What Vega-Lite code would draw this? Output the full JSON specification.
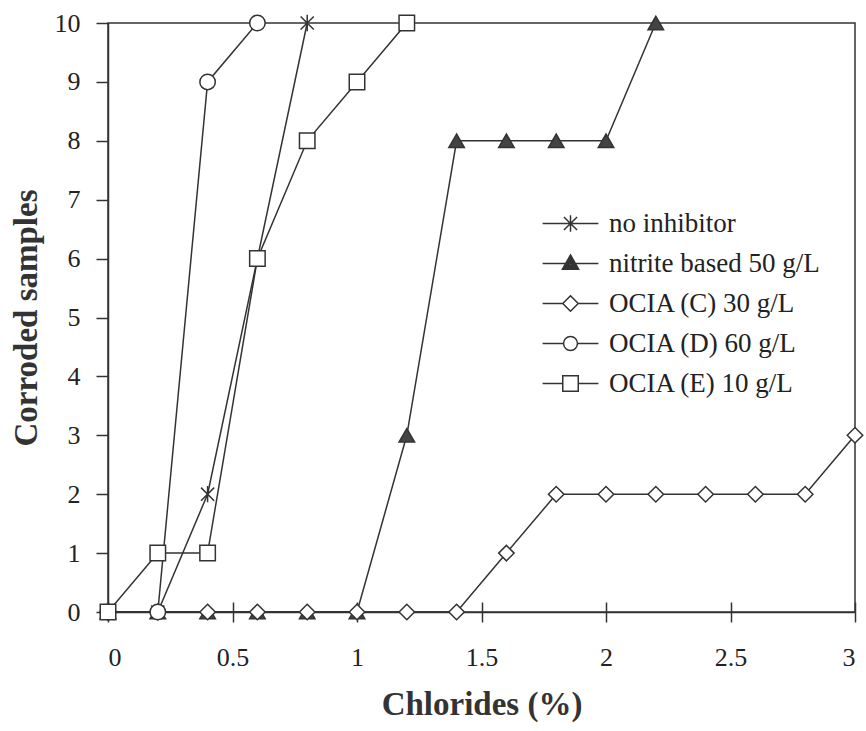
{
  "$schema": "https://vega.github.io/schema/vega-lite/v6.json",
  "width": 747,
  "height": 589,
  "autosize": "none",
  "padding": {"left": 108, "top": 23, "right": 11, "bottom": 119},
  "background": "white",
  "config": {
    "view": {"stroke": "#333", "strokeWidth": 1.5},
    "axis": {
      "grid": false,
      "domainColor": "#333",
      "domainWidth": 1.5,
      "tickColor": "#333",
      "tickWidth": 1.5,
      "labelFont": "Liberation Serif",
      "labelFontSize": 26,
      "labelColor": "#222",
      "titleFont": "Liberation Serif",
      "titleFontWeight": "bold",
      "titleFontSize": 33,
      "titleColor": "#333"
    }
  },
  "data": {
    "values": [
      {"series": "nitrite based 50 g/L", "x": 0, "y": 0},
      {"series": "nitrite based 50 g/L", "x": 0.2, "y": 0},
      {"series": "nitrite based 50 g/L", "x": 0.4, "y": 0},
      {"series": "nitrite based 50 g/L", "x": 0.6, "y": 0},
      {"series": "nitrite based 50 g/L", "x": 0.8, "y": 0},
      {"series": "nitrite based 50 g/L", "x": 1.0, "y": 0},
      {"series": "nitrite based 50 g/L", "x": 1.2, "y": 3},
      {"series": "nitrite based 50 g/L", "x": 1.4, "y": 8},
      {"series": "nitrite based 50 g/L", "x": 1.6, "y": 8},
      {"series": "nitrite based 50 g/L", "x": 1.8, "y": 8},
      {"series": "nitrite based 50 g/L", "x": 2.0, "y": 8},
      {"series": "nitrite based 50 g/L", "x": 2.2, "y": 10},
      {"series": "OCIA (C) 30 g/L", "x": 0, "y": 0},
      {"series": "OCIA (C) 30 g/L", "x": 0.2, "y": 0},
      {"series": "OCIA (C) 30 g/L", "x": 0.4, "y": 0},
      {"series": "OCIA (C) 30 g/L", "x": 0.6, "y": 0},
      {"series": "OCIA (C) 30 g/L", "x": 0.8, "y": 0},
      {"series": "OCIA (C) 30 g/L", "x": 1.0, "y": 0},
      {"series": "OCIA (C) 30 g/L", "x": 1.2, "y": 0},
      {"series": "OCIA (C) 30 g/L", "x": 1.4, "y": 0},
      {"series": "OCIA (C) 30 g/L", "x": 1.6, "y": 1},
      {"series": "OCIA (C) 30 g/L", "x": 1.8, "y": 2},
      {"series": "OCIA (C) 30 g/L", "x": 2.0, "y": 2},
      {"series": "OCIA (C) 30 g/L", "x": 2.2, "y": 2},
      {"series": "OCIA (C) 30 g/L", "x": 2.4, "y": 2},
      {"series": "OCIA (C) 30 g/L", "x": 2.6, "y": 2},
      {"series": "OCIA (C) 30 g/L", "x": 2.8, "y": 2},
      {"series": "OCIA (C) 30 g/L", "x": 3.0, "y": 3},
      {"series": "no inhibitor", "x": 0, "y": 0},
      {"series": "no inhibitor", "x": 0.2, "y": 0},
      {"series": "no inhibitor", "x": 0.4, "y": 2},
      {"series": "no inhibitor", "x": 0.8, "y": 10},
      {"series": "OCIA (D) 60 g/L", "x": 0, "y": 0},
      {"series": "OCIA (D) 60 g/L", "x": 0.2, "y": 0},
      {"series": "OCIA (D) 60 g/L", "x": 0.4, "y": 9},
      {"series": "OCIA (D) 60 g/L", "x": 0.6, "y": 10},
      {"series": "OCIA (E) 10 g/L", "x": 0, "y": 0},
      {"series": "OCIA (E) 10 g/L", "x": 0.2, "y": 1},
      {"series": "OCIA (E) 10 g/L", "x": 0.4, "y": 1},
      {"series": "OCIA (E) 10 g/L", "x": 0.6, "y": 6},
      {"series": "OCIA (E) 10 g/L", "x": 0.8, "y": 8},
      {"series": "OCIA (E) 10 g/L", "x": 1.0, "y": 9},
      {"series": "OCIA (E) 10 g/L", "x": 1.2, "y": 10}
    ]
  },
  "encoding": {
    "y": {
      "field": "y",
      "type": "quantitative",
      "scale": {"domain": [0, 10], "nice": false},
      "axis": {"title": "Corroded samples", "values": [0, 1, 2, 3, 4, 5, 6, 7, 8, 9, 10], "tickSize": 12, "labelPadding": 16, "titlePadding": 11}
    },
    "fill": {
      "field": "series",
      "type": "nominal",
      "scale": {
        "domain": ["no inhibitor", "nitrite based 50 g/L", "OCIA (C) 30 g/L", "OCIA (D) 60 g/L", "OCIA (E) 10 g/L"],
        "range": ["#333", "#444", "white", "white", "white"]
      },
      "legend": null
    }
  },
  "layer": [
    {
      "mark": {"type": "line", "color": "#333", "strokeWidth": 1.5},
      "encoding": {
        "x": {
          "field": "x",
          "type": "quantitative",
          "scale": {"domain": [0, 3], "nice": false, "zero": false},
          "axis": {"orient": "bottom", "title": "Chlorides (%)", "values": [0, 0.5, 1, 1.5, 2, 2.5, 3], "format": "~g", "tickSize": 10, "labelPadding": 22, "titlePadding": 18}
        },
        "fill": null,
        "detail": {"field": "series"}
      }
    },
    {
      "mark": {"type": "point", "filled": true, "size": 240, "stroke": "#333", "strokeWidth": 1.5, "opacity": 1},
      "encoding": {
        "x": {
          "field": "x",
          "type": "quantitative",
          "scale": {"domain": [0, 3], "nice": false, "zero": false},
          "axis": {"orient": "bottom", "title": null, "labels": false, "domain": false, "values": [0, 0.5, 1, 1.5, 2, 2.5, 3], "tickSize": -10}
        },
        "shape": {
          "field": "series",
          "type": "nominal",
          "scale": {
            "domain": ["no inhibitor", "nitrite based 50 g/L", "OCIA (C) 30 g/L", "OCIA (D) 60 g/L", "OCIA (E) 10 g/L"],
            "range": ["M0,-1.05L0,1.05M-0.85,-0.85L0.85,0.85M-0.85,0.85L0.85,-0.85", "triangle-up", "diamond", "circle", "square"]
          },
          "legend": null
        }
      }
    },
    {
      "transform": [{"filter": "false"}],
      "mark": {"type": "point", "filled": true, "size": 240, "stroke": "#333", "strokeWidth": 1.5, "opacity": 1},
      "encoding": {
        "x": {
          "field": "x",
          "type": "quantitative",
          "scale": {"domain": [0, 3], "nice": false, "zero": false},
          "axis": null
        },
        "shape": {
          "field": "series",
          "type": "nominal",
          "scale": {
            "domain": ["no inhibitor", "nitrite based 50 g/L", "OCIA (C) 30 g/L", "OCIA (D) 60 g/L", "OCIA (E) 10 g/L"],
            "range": [
              "M-3.6,0L3.6,0M0,-1.05L0,1.05M-0.85,-0.85L0.85,0.85M-0.85,0.85L0.85,-0.85",
              "M-3.6,0L3.6,0M0,-1.1L1.05,0.75L-1.05,0.75ZM0,-0.854L0.84,0.626L-0.84,0.626ZM0,-0.608L0.63,0.502L-0.63,0.502ZM0,-0.362L0.42,0.378L-0.42,0.378ZM0,-0.116L0.21,0.254L-0.21,0.254Z",
              "M-3.6,0L-1,0M1,0L3.6,0M0,-1L1,0L0,1L-1,0Z",
              "M-3.6,0L-0.9,0M0.9,0L3.6,0M0.9,0A0.9,0.9,0,1,1,-0.9,0A0.9,0.9,0,1,1,0.9,0Z",
              "M-3.6,0L-1,0M1,0L3.6,0M-1,-1L1,-1L1,1L-1,1Z"
            ]
          },
          "legend": {
            "title": null,
            "orient": "none",
            "legendX": 449,
            "legendY": 187,
            "padding": 0,
            "symbolSize": 240,
            "symbolFillColor": "white",
            "symbolStrokeColor": "#333",
            "labelFont": "Liberation Serif",
            "labelFontSize": 27,
            "labelColor": "#222",
            "labelLimit": 0,
            "labelOffset": 25,
            "rowPadding": 12,
            "symbolStrokeWidth": 1.5
          }
        }
      }
    }
  ],
  "resolve": {"axis": {"x": "independent"}, "scale": {"shape": "independent"}}
}
